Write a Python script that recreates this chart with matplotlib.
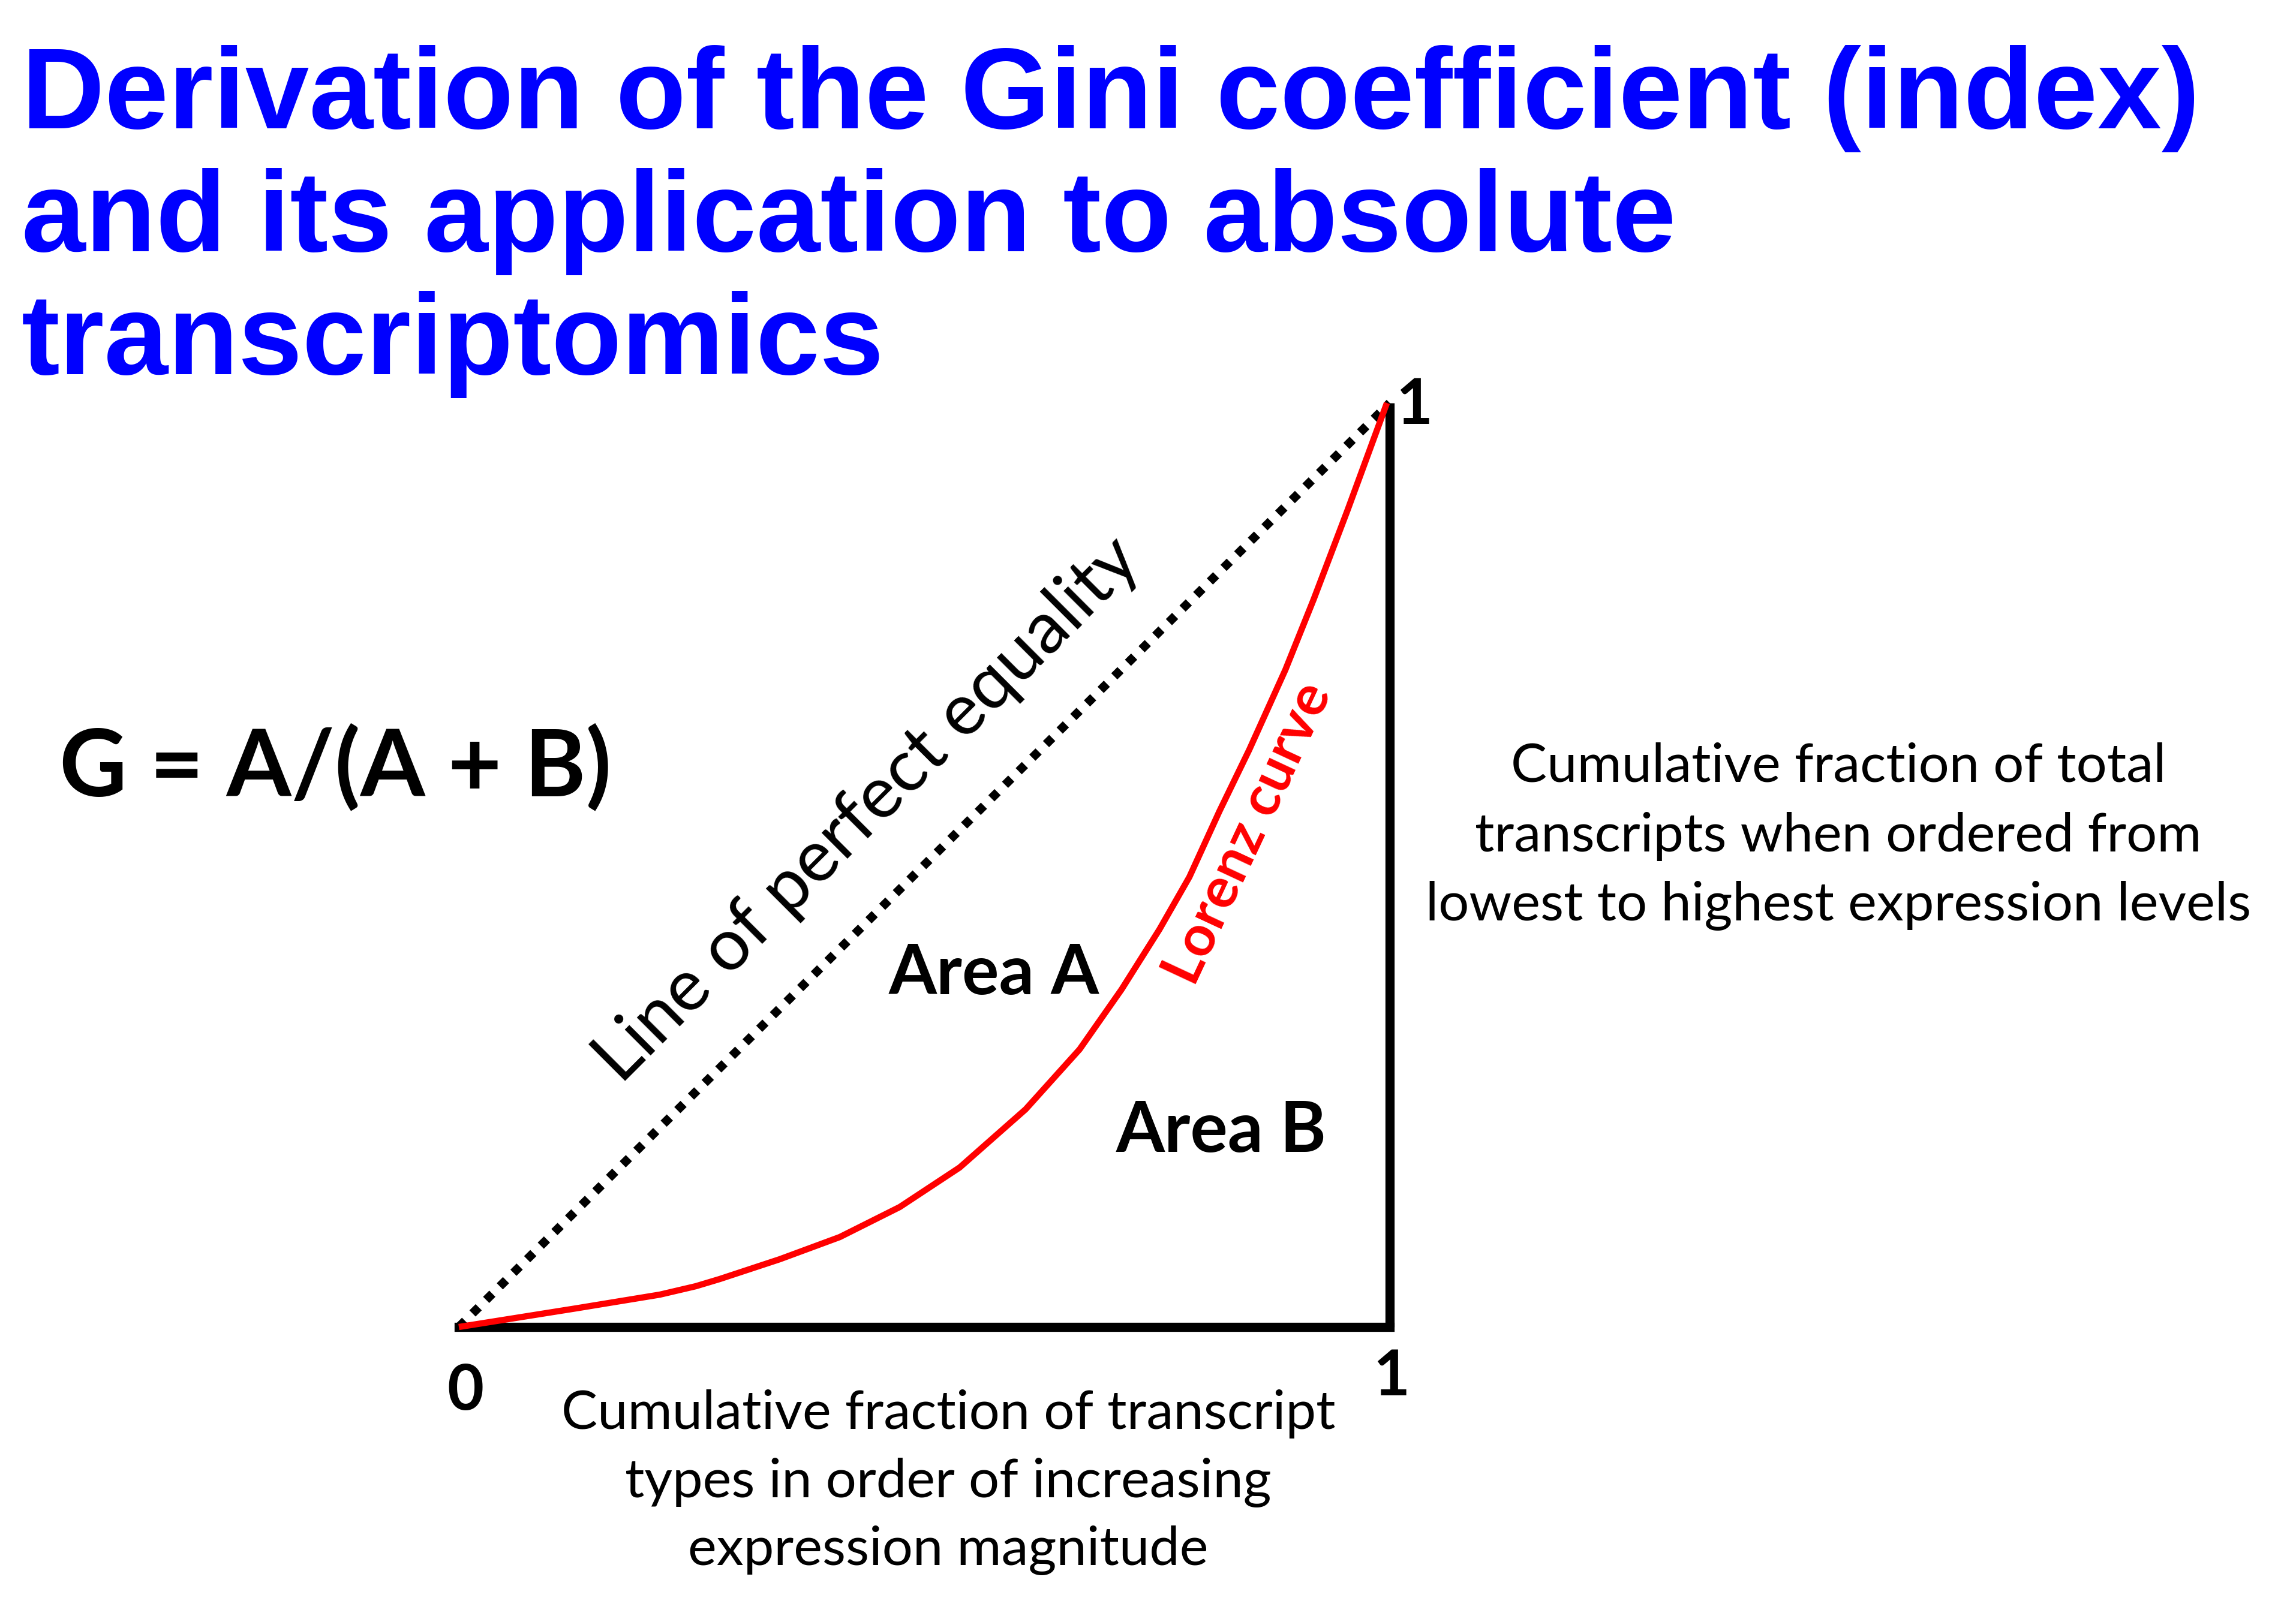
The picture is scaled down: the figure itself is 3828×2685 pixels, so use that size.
import matplotlib.pyplot as plt

# Lorenz curve (cumulative fraction of types, cumulative fraction of transcripts)
lorenzX = [0, 0.1256, 0.2159, 0.2545, 0.2803, 0.3447, 0.4092, 0.4736, 0.5380, 0.6089, 0.6669,
           0.7120, 0.7526, 0.7848, 0.8170, 0.8492, 0.8879, 0.9182, 0.9549, 0.997]
lorenzY = [0, 0.0201, 0.0350, 0.0441, 0.0519, 0.0733, 0.0973, 0.1298, 0.1726, 0.2356, 0.3005,
           0.3654, 0.4302, 0.4870, 0.5580, 0.6249, 0.7112, 0.7872, 0.8845, 1.0]
equalX = [0, 1]
equalY = [0, 1]

titleLines = ['Derivation of the Gini coefficient (index)',
              'and its application to absolute',
              'transcriptomics']
yLabelLines = ['Cumulative fraction of total',
               'transcripts when ordered from',
               'lowest to highest expression levels']
xLabelLines = ['Cumulative fraction of transcript',
               'types in order of increasing',
               'expression magnitude']

W, H = 3828, 2685
fig = plt.figure(figsize=(W / 100, H / 100), dpi=100)

def fx(px):
    return px / W

def fy(py):
    return 1 - py / H

# plot box: origin at pixel (765, 2213), top right at (2317, 672)
x0, x1, y0, y1 = 765, 2317, 2213, 672
ax = fig.add_axes([fx(x0), fy(y0), (x1 - x0) / W, (y0 - y1) / H])
ax.set_xlim(0, 1)
ax.set_ylim(0, 1)
ax.axis('off')

def dx(px):
    return (px - x0) / (x1 - x0)

def dy(py):
    return (y0 - py) / (y0 - y1)

ax.plot([0, 1], [0, 0], color='black', lw=11, solid_capstyle='projecting', clip_on=False)
ax.plot([1, 1], [0, 1], color='black', lw=11, solid_capstyle='butt', clip_on=False)
ax.plot(equalX, equalY, color='black', lw=10.5, linestyle=(0, (1, 1.2)), dash_capstyle='butt', clip_on=False)
ax.plot(lorenzX, lorenzY, color='#FF0000', lw=7.5, solid_joinstyle='round', solid_capstyle='butt', clip_on=False)

body = 'Lato'
for i, line in enumerate(titleLines):
    fig.text(fx(36), fy(214 + 205 * i), line, fontsize=138, fontweight='bold',
             family='Liberation Sans', color='#0000FF', ha='left', va='baseline')

fig.text(fx(99), fy(1327), 'G = A/(A + B)', fontsize=112, fontweight='bold', family=body,
         ha='left', va='baseline')

ax.text(dx(1470), dy(1375), 'Line of perfect equality', fontsize=87, family=body, rotation=45,
        rotation_mode='anchor', ha='center', va='baseline', clip_on=False)
ax.text(dx(2106), dy(1401), 'Lorenz curve', fontsize=68, fontweight='bold', family=body,
        color='#FF0000', rotation=65, rotation_mode='anchor', ha='center', va='baseline', clip_on=False)
ax.text(dx(1657), dy(1658), 'Area A', fontsize=83, fontweight='bold', family=body,
        ha='center', va='baseline', clip_on=False)
ax.text(dx(2036), dy(1921), 'Area B', fontsize=84, fontweight='bold', family=body,
        ha='center', va='baseline', clip_on=False)

ax.text(dx(776), dy(2351), '0', fontsize=76, fontweight='bold', family=body, ha='center', va='baseline', clip_on=False)
ax.text(dx(2320), dy(2327), '1', fontsize=76, fontweight='bold', family=body, ha='center', va='baseline', clip_on=False)
ax.text(dx(2358), dy(707), '1', fontsize=76, fontweight='bold', family=body, ha='center', va='baseline', clip_on=False)

for i, line in enumerate(yLabelLines):
    fig.text(fx(3065), fy([1303, 1420, 1535][i]), line, fontsize=65, family=body, ha='center', va='baseline')
for i, line in enumerate(xLabelLines):
    fig.text(fx(1581), fy([2383, 2497, 2610][i]), line, fontsize=65, family=body, ha='center', va='baseline')

fig.savefig('out.png', dpi=100, facecolor='white')
